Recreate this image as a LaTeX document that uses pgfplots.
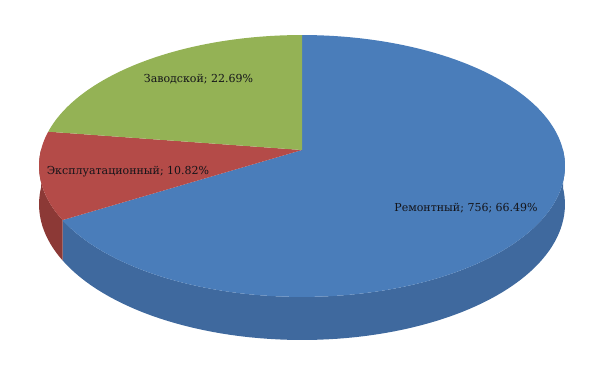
\documentclass[border=0pt]{standalone}
\usepackage{fontspec}
\setmainfont{DejaVu Serif}
\usepackage{pgfplots}
\usepackage{pgfplotstable}
\pgfplotsset{compat=1.18}
\definecolor{blueTop}{RGB}{74,125,186}
\definecolor{blueSide}{RGB}{63,105,158}
\definecolor{redTop}{RGB}{180,75,72}
\definecolor{redSide}{RGB}{140,57,54}
\definecolor{greenTop}{RGB}{148,178,85}
\definecolor{labeltext}{RGB}{20,20,25}
\pgfplotstableread{
value pct
756 66.49
123 10.82
258 22.69
}\piedata
\pgfplotstablegetelem{0}{pct}\of\piedata \let\pA\pgfplotsretval
\pgfplotstablegetelem{1}{pct}\of\piedata \let\pB\pgfplotsretval
\pgfplotstablegetelem{2}{pct}\of\piedata \let\pC\pgfplotsretval
\pgfmathsetmacro{\aA}{3.6*\pA}
\pgfmathsetmacro{\aB}{\aA+3.6*\pB}
\tikzset{declare function={
  px(\t)=302+261*sin(\t)/(1+0.122*cos(\t));
  pyt(\t)=150-129*cos(\t)/(1+0.122*cos(\t));
  pyb(\t)=150+(37.8-129*cos(\t))/(1+0.122*cos(\t));
}}
\begin{document}
\begin{tikzpicture}
\begin{axis}[
  width=454.5pt, height=281.25pt, scale only axis,
  xmin=0, xmax=606, ymin=0, ymax=375, y dir=reverse,
  axis line style={draw=none}, ticks=none, clip=false,
]
\path (axis cs:0,0) (axis cs:606,375);
% front side walls
\fill[blueSide] plot[domain=90:\aA, samples=80, variable=\t] ({px(\t)},{pyt(\t)})
  -- plot[domain=\aA:90, samples=80, variable=\t] ({px(\t)},{pyb(\t)}) -- cycle;
\fill[redSide] plot[domain=\aA:270, samples=30, variable=\t] ({px(\t)},{pyt(\t)})
  -- plot[domain=270:\aA, samples=30, variable=\t] ({px(\t)},{pyb(\t)}) -- cycle;
% top faces
\fill[blueTop] (axis cs:302,150) -- plot[domain=0:\aA, samples=150, variable=\t] ({px(\t)},{pyt(\t)}) -- cycle;
\fill[redTop] (axis cs:302,150) -- plot[domain=\aA:\aB, samples=40, variable=\t] ({px(\t)},{pyt(\t)}) -- cycle;
\fill[greenTop] (axis cs:302,150) -- plot[domain=\aB:360, samples=80, variable=\t] ({px(\t)},{pyt(\t)}) -- cycle;
% labels
\node[font=\fontsize{8.25}{10}\selectfont, text=labeltext] at (axis cs:198.5,79) {Заводской; 22.69\%};
\node[font=\fontsize{8.25}{10}\selectfont, text=labeltext] at (axis cs:128,172) {Эксплуатационный; 10.82\%};
\node[font=\fontsize{8.25}{10}\selectfont, text=labeltext] at (axis cs:466,208) {Ремонтный; 756; 66.49\%};
\end{axis}
\end{tikzpicture}
\end{document}
